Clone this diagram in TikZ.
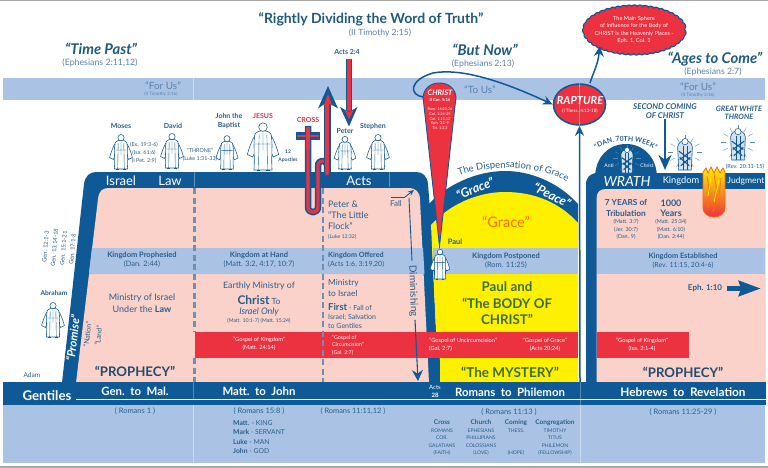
\documentclass[tikz,border=0pt]{standalone}
\usepackage{fontspec}
\setmainfont{Lato}
\usetikzlibrary{arrows.meta,decorations.text,decorations.pathmorphing,shapes.geometric}
\definecolor{navy}{HTML}{0F5A96}
\definecolor{band}{HTML}{AAC3E4}
\definecolor{pinkb}{HTML}{FBD2CA}
\definecolor{redb}{HTML}{EC3240}
\definecolor{yel}{HTML}{FFF000}
\definecolor{txt}{HTML}{2A5E8C}
\definecolor{refc}{HTML}{5A83AD}
\definecolor{headc}{HTML}{1F5A80}
\definecolor{grn}{HTML}{3C6E2E}
\definecolor{dashc}{HTML}{6F8FB5}
\newcommand\fsz[2]{\fontsize{#1}{#2}\selectfont}
\tikzset{
 lbl/.style={inner sep=0pt,align=center,text=txt},
 lft/.style={inner sep=0pt,align=left,text=txt,anchor=west},
 wht/.style={inner sep=0pt,align=center,text=white},
 fig/.style={draw=navy,fill=white,line width=.55pt},
 blueline/.style={draw=navy,line width=1.5pt},
 tube/.style={line cap=butt,line join=round},
 figure robed/.pic={
  \path[fig] (-6,-27) .. controls (-9,-22) and (-11,-16) .. (-12,-12) -- (-8,-10) -- (-6,-14) -- cycle;
  \path[fig] (6,-27) .. controls (9,-22) and (11,-16) .. (12,-12) -- (8,-10) -- (6,-14) -- cycle;
  \path[fig] (-7,0) .. controls (-6,-12) and (-8,-20) .. (-6,-28) .. controls (-4,-31) and (4,-31) .. (6,-28) .. controls (8,-20) and (6,-12) .. (7,0) -- cycle;
  \path[fig] (0,-33) circle (3.3);
  \draw[navy,line width=.4pt] (-3,-27)--(-3.5,0) (3,-27)--(3.5,0) (0,-29)--(0,-15) (-6,-20)--(6,-20);
  \draw[navy,line width=1pt] (-5,0)--(-2,0) (2,0)--(5,0);
 },
 figure glory/.pic={
  \foreach \a in {0,30,...,330}{\draw[navy!70,line width=.35pt] (0,-17)++(\a:11) -- ++(\a:5);}
  \path[draw=navy,fill=navy!18,line width=.6pt] (-6,0) -- (-7,-22) .. controls (-6,-30) and (6,-30) .. (7,-22) -- (6,0) -- cycle;
  \path[fig] (0,-27) circle (3);
  \draw[navy,line width=1.1pt] (-6,-18)--(5,-10) (6,-18)--(-5,-10) (-5,-12)--(4,-4) (5,-12)--(-4,-4);
  \draw[navy,line width=.5pt] (-2,-23)--(-2,0) (2,-23)--(2,0);
 },
}
\begin{document}
\begin{tikzpicture}[x=1pt,y=-1pt]
\useasboundingbox (0,0) rectangle (768,468);
\fill[white] (0,0) rectangle (768,468);
\fill[gray!70] (0,0) rectangle (768,1);
\fill[gray!70] (0,466) rectangle (768,468);
% bands
\fill[band] (3,78) rectangle (765,100);
\fill[band] (3,405) rectangle (765,463);
\draw[white,opacity=.4,line width=.5pt] (193,78)--(193,100) (193,405)--(193,463) (580,405)--(580,463);
% left frame
\fill[navy] (62,383) -- (84,184) .. controls (85,176) and (90,172) .. (96,172) -- (416,172) .. controls (423,172) and (427,176) .. (428,184) -- (431,222) -- (436,330) -- (440,360) -- (440,383) -- cycle;
\fill[pinkb] (76,383) -- (98,199) .. controls (99,191) and (102,188) .. (109,188) -- (408,188) .. controls (416,188) and (420,192) .. (420,200) -- (429,383) -- cycle;
% arch & yellow
\fill[navy] (428,205) .. controls (445,186) and (475,171) .. (505,171) .. controls (535,171) and (562,186) .. (578,204) -- (578,240) -- (430,240) -- cycle;
\fill[yel] (431,225) .. controls (450,204) and (478,192) .. (505,192) .. controls (535,192) and (560,203) .. (578,223) -- (578,382) -- (440,382) -- (440,360) -- (436,330) -- cycle;
% right frame
\fill[navy] (586,383) -- (586,185) .. controls (586,177) and (590,173) .. (598,173) -- (765,173) -- (765,383) -- cycle;
\fill[pinkb] (596.5,383) -- (596.5,199) .. controls (596.5,192) and (600,189) .. (606,189) -- (765,189) -- (765,383) -- cycle;
% dome
\fill[navy] (595,178) .. controls (595,157) and (609,144) .. (626,144) .. controls (643,144) and (657,157) .. (657,178) -- cycle;
% kingdom bands
\fill[band] (92,248) -- (423,248) -- (424.5,274) -- (89,274) -- cycle;
\fill[band] (433,248) rectangle (578,274);
\fill[band] (596.5,248) rectangle (765,274);
% red bars
\fill[redb] (195,332) rectangle (578,358);
\fill[redb] (596.5,332) rectangle (689,358);
% dashed
\draw[dashc,line width=2.2pt,dash pattern=on 6pt off 3.5pt] (194.5,188)--(194.5,332) (194.5,358)--(194.5,382);
\draw[dashc,line width=2.2pt,dash pattern=on 6pt off 3.5pt] (323,188)--(323,382);
\draw[white,opacity=.35,line width=.5pt] (194.5,172)--(194.5,187) (389.5,172)--(389.5,187);
% bottom bar
\fill[navy] (3,382) rectangle (766,405);
\draw[white,line width=1.2pt] (76,399.5)--(766,399.5);
\draw[white,opacity=.3,line width=.5pt] (193,382)--(193,399) (580,382)--(580,405);
% cone CHRIST
\path[fill=redb,draw=navy,line width=.9pt] (423,97) .. controls (424,88) and (431,83) .. (439.5,83) .. controls (448,83) and (455,88) .. (456,97) -- (439.5,246) -- cycle;
% Cross & hairpin
\draw[navy,line width=6.5pt,tube] (308,126)--(308,207) .. controls (308,214) and (318,214) .. (318,207) --(318,166) .. controls (318,159) and (327,159) .. (327,166) -- (327,175);
\draw[redb,line width=3.2pt,tube] (308,127)--(308,207) .. controls (308,214) and (318,214) .. (318,207) --(318,166) .. controls (318,159) and (327,159) .. (327,166) -- (327,175);
\fill[navy] (296,132) rectangle (320,140);
\fill[redb] (297,135) rectangle (319,137.5);
\fill[redb] (306.4,128) rectangle (309.6,150);
\coordinate (upbase) at (327,172);
\coordinate (uptip) at (327,100);
\draw[navy,line width=7pt] (upbase)--(uptip);
\draw[redb,line width=4pt] (upbase)--(uptip);
\fill[navy] (328,86) -- (338,108.5) -- (329,103) -- (326,103) -- (318,108.5) -- cycle;
\fill[redb] (328,94) -- (332.5,106) -- (328,103) -- (323.5,106) -- cycle;
% Acts 2:4 arrow
\coordinate (acttop) at (349,59);
\coordinate (actend) at (349,112);
\draw[navy,line width=6pt] (acttop)--(actend);
\draw[redb,line width=3.6pt] (acttop)--(actend);
\fill[navy] (349,126.5) -- (340,107) -- (347,111) -- (351,111) -- (357.5,107) -- cycle;
\fill[redb] (349,119) -- (344.5,110.5) -- (349,112) -- (353.5,110.5) -- cycle;
% Cloud & rapture
\node[draw=none,ellipse,minimum width=98pt,minimum height=46pt,inner sep=0pt] (cloud) at (634.5,30) {};
\path[fill=redb,draw=navy,line width=1.1pt,decorate,decoration={bumps,segment length=11pt,amplitude=1.6pt}] (cloud.center) ellipse[x radius=50,y radius=23.5];
\node[ellipse,fill=redb,draw=navy,line width=1.6pt,minimum width=52pt,minimum height=41pt,inner sep=0pt] (rapture) at (579.5,104.5) {};
\draw[white,opacity=.4,line width=.4pt] (rapture.north)--(rapture.south);
% arrows to rapture etc.
\coordinate (toustart) at (423,97);
\draw[blueline,-{Stealth[length=10pt,width=9pt]}] (toustart) .. controls (409,95) and (409,80) .. (433,73) .. controls (460,68) and (500,80) .. (rapture.west);
\coordinate (raptail) at (580,382);
\draw[blueline,-{Stealth[length=10pt,width=9pt]}] (raptail)--(rapture.south);
\draw[blueline,-{Stealth[length=10pt,width=10pt]}] (590,83) .. controls (593,73) and (598,65) .. (cloud.south west);
% Second coming arrow
\coordinate (sctop) at (665,119);
\coordinate (scend) at (665,170);
\draw[navy,line width=2pt,-{Stealth[length=15pt,width=13pt]}] (sctop)--(scend);
% Eph arrow
\coordinate (ephs) at (727,288.5);
\coordinate (ephe) at (761,288.5);
\draw[navy,line width=5pt,-{Stealth[length=22pt,width=15pt,inset=2pt]}] (ephs)--(ephe);
% Diminishing & Fall
\coordinate (falla) at (391,197);
\coordinate (fallb) at (405,197);
\coordinate (fallc) at (414,190);
\draw[navy,line width=.9pt] (falla)--(fallb);
\draw[navy,line width=.9pt,-{Stealth[length=6pt,width=5pt]}] (fallb)--(fallc);
\coordinate (dima) at (409,198);
\coordinate (dimb) at (412,261);
\coordinate (dimc) at (415,320);
\coordinate (dimd) at (418,381);
\draw[navy,line width=.9pt] (dima)--(dimb);
\draw[navy,line width=1.1pt,-{Stealth[length=11pt,width=11pt]}] (dimc)--(dimd);
% Flame
\path[top color=yel,bottom color=redb,draw=orange!80!red,line width=.8pt] (703,172) -- (706,168) -- (708,173) -- (711,167) -- (714,173) -- (717,167) -- (720,173) -- (723,168) -- (725,172) -- (725,207) .. controls (725,214) and (720,217) .. (714,217) .. controls (708,217) and (703,214) .. (703,207) -- cycle;
\draw[orange!90!red,line width=.8pt] (707,176)--(710,195)--(708,208) (714,174)--(717,192)--(713,212) (721,178)--(719,196)--(722,208);
\draw[yel,line width=.8pt] (711,178)--(708,196) (719,180)--(714,202);
% Figures
\path (121,169) pic[scale=.95] {figure robed};
\path (172,168) pic[scale=.95] {figure robed};
\path (227,169) pic[scale=.92] {figure robed};
\path (263,170) pic[scale=1.3] {figure robed};
\path (345,169) pic[scale=.9] {figure robed};
\path (378,169) pic[scale=.95] {figure robed};
\path (53,337) pic[scale=.95] {figure robed};
\path (627,173) pic[scale=.85] {figure glory};
\path (685,170) pic[scale=1.05] {figure glory};
\path (738,160) pic[scale=1.05] {figure glory};
\path (440,279) pic[scale=.82] {figure robed};
%% text
\node[lbl,text=headc,font=\fsz{14}{17}\bfseries] (title) at (371,19) {“Rightly Dividing the Word of Truth”};
\node[lbl,font=\fsz{8.6}{9},text=refc] (titleref) at (380,33) {(II Timothy 2:15)};
\node[lbl,text=headc,font=\fsz{14.8}{17}\bfseries\itshape] (tp) at (101,49) {“Time Past”};
\node[lbl,font=\fsz{8.8}{9},text=refc] (tpr) at (100,63) {(Ephesians 2:11,12)};
\node[lbl,text=headc,font=\fsz{14.8}{17}\bfseries\itshape] (bn) at (485,50) {“But Now”};
\node[lbl,font=\fsz{8.7}{9},text=refc] (bnr) at (483,64) {(Ephesians 2:13)};
\node[lbl,text=headc,font=\fsz{14.8}{17}\bfseries\itshape] (ac) at (715,59) {“Ages to Come”};
\node[lbl,font=\fsz{8.7}{9},text=refc] (acr) at (713,72) {(Ephesians 2:7)};
\node[lbl,text=refc,font=\fsz{10}{11}] (fu1) at (163,85.5) {“For Us”};
\node[lbl,text=refc,font=\fsz{4.6}{5}] (fu1r) at (161,94.5) {(II Timothy 3:16)};
\node[lbl,text=refc,font=\fsz{10}{11}] (tu) at (480,90) {“To Us”};
\node[lbl,text=refc,font=\fsz{10}{11}] (fu2) at (698,86.5) {“For Us”};
\node[lbl,text=refc,font=\fsz{4.6}{5}] (fu2r) at (698,95.5) {(II Timothy 3:16)};
\node[wht,font=\fsz{7.5}{8}\bfseries\itshape] (cn1) at (440,93) {CHRIST};
\node[wht,font=\fsz{4.2}{5}\bfseries] (cn2) at (440,100) {II Cor. 5:16};
\node[wht,font=\fsz{3.8}{4.6}] (cn3) at (440,119) {Rom. 16:25,26\\Col. 1:24-29\\Col. 1:11,12\\Eph. 3:1-9\\Tit. 1:2,3};
\node[wht,font=\fsz{11}{11}\bfseries\itshape] (rt) at (580,101) {RAPTURE};
\node[wht,font=\fsz{4.6}{5}] (rr) at (580,111) {(I Thess. 4:13-18)};
\node[wht,font=\fsz{5.6}{7.6}] (cl) at (634,30) {The Main Sphere\\of Influence for the Body of\\CHRIST is the Heavenly Places -\\Eph. 1, Col. 1};
\node[lbl,font=\fsz{8}{8.3}\bfseries\itshape] (sc) at (665,111) {SECOND COMING\\OF CHRIST};
\node[lbl,font=\fsz{7.4}{8.3}\bfseries\itshape] (gw) at (739,113) {GREAT WHITE\\THRONE};
\node[lbl,font=\fsz{5.6}{6}] (rev20) at (745,167) {(Rev. 20:11-15)};
\node[lbl,font=\fsz{7}{7}\bfseries] (m1) at (121,126) {Moses};
\node[lbl,font=\fsz{7}{7}\bfseries] (m2) at (173,126) {David};
\node[lbl,font=\fsz{7}{9}\bfseries] (m3) at (229,121) {John the\\Baptist};
\node[lbl,font=\fsz{7}{7}\bfseries,text=redb] (m4) at (263,116) {JESUS};
\node[lbl,font=\fsz{7}{7}\bfseries,text=redb] (m5) at (308,120) {CROSS};
\node[lbl,font=\fsz{7}{7}\bfseries] (m6) at (345,131) {Peter};
\node[lbl,font=\fsz{7}{7}\bfseries] (m7) at (373,126) {Stephen};
\node[lbl,font=\fsz{5.4}{8}] (v1) at (144,153) {(Ex. 19:3-6)\\(Isa. 61:6)\\(I Pet. 2:9)};
\node[lbl,font=\fsz{5.4}{8}] (v2) at (200,155) {“THRONE”\\(Luke 1:31-33)};
\node[lbl,font=\fsz{5}{8}\bfseries] (v3) at (288,156) {12\\Apostles};
\node[lbl,font=\fsz{7}{7}\bfseries] (act24) at (347,52) {Acts 2:4};
\node[lbl,font=\fsz{6.6}{7}\bfseries] (abr) at (54,293) {Abraham};
\node[lbl,font=\fsz{6.6}{7}] (adam) at (32,375) {Adam};
\node[lbl,rotate=85,font=\fsz{5.8}{9}] (gen) at (59,248) {Gen. 12:1-3\\Gen. 13:14-18\\Gen. 15:1-21\\Gen. 17:1-8};
\node[wht,rotate=83.5,font=\fsz{11.5}{12}\bfseries\itshape] (prom) at (73,338) {“Promise”};
\node[lbl,rotate=83.5,font=\fsz{7}{11}] (nl) at (93,335) {“Nation”\\“Land”};
\node[wht,font=\fsz{13}{14}] (isr) at (121,181) {Israel};
\node[wht,font=\fsz{13}{14}] (law) at (170,181) {Law};
\node[wht,font=\fsz{13}{14}] (acts) at (359,181) {Acts};
\node[lft,font=\fsz{9}{11}] (pet) at (328,220) {Peter \&\\“The Little\\Flock”\\[-2pt]{\fsz{5.2}{6}(Luke 12:32)}};
\node[lbl,font=\fsz{8}{9}] (fall) at (396,204) {Fall};
\node[lbl,rotate=-88,font=\fsz{10}{11}] (dim) at (413,291) {Diminishing};
\node[lbl,font=\fsz{7.5}{9.5}\bfseries] (kp) at (142,260) {Kingdom Prophesied\\{\mdseries\fsz{7.4}{9}(Dan. 2:44)}};
\node[lbl,font=\fsz{7.5}{9.5}\bfseries] (kh) at (259,260) {Kingdom at Hand\\{\mdseries\fsz{7.4}{9}(Matt. 3:2, 4:17, 10:7)}};
\node[lft,font=\fsz{7.2}{9.5}\bfseries] (ko) at (328,260) {Kingdom Offered\\{\mdseries\fsz{7}{9}(Acts 1:6, 3:19,20)}};
\node[lbl,font=\fsz{9}{12.5}] (mi) at (142,303) {Ministry of Israel\\Under the {\bfseries Law}};
\node[lbl,font=\fsz{8.8}{10}] (em) at (259,286) {Earthly Ministry of};
\node[lbl,font=\fsz{8.5}{12}] (ch) at (259,300) {{\fsz{12}{12}\bfseries Christ} To};
\node[lbl,font=\fsz{9}{10}\itshape] (io) at (259,312) {Israel Only};
\node[lbl,font=\fsz{5.2}{5}] (mref) at (259,321) {(Matt. 10:1-7) (Matt. 15:24)};
\node[lft,font=\fsz{8.4}{11}] (mn) at (328,288) {Ministry\\to Israel};
\node[lft,font=\fsz{7}{9}] (fi) at (328,316) {{\fsz{9.5}{9}\bfseries First} - Fall of\\Israel; Salvation\\to Gentiles};
\node[wht,font=\fsz{5.7}{7.6}] (g1) at (259,344) {“Gospel of Kingdom”\\(Matt. 24:14)};
\node[wht,anchor=west,align=left,font=\fsz{5.3}{7.4}] (g2) at (332,345) {“Gospel of\\Circumcision”\\(Gal. 2:7)};
\node[wht,anchor=west,align=left,font=\fsz{5.7}{8}] (g3) at (429,345) {“Gospel of Uncircumcision”\\(Gal. 2:7)};
\node[wht,font=\fsz{5.7}{8}] (g4) at (545,345) {“Gospel of Grace”\\(Acts 20:24)};
\node[wht,font=\fsz{5.7}{8}] (g5) at (642,345) {“Gospel of Kingdom”\\(Isa. 2:1-4)};
\node[lbl,font=\fsz{13.2}{16}\bfseries,text=txt!80!black] (pr1) at (135,371) {“PROPHECY”};
\node[lbl,font=\fsz{13.2}{16}\bfseries,text=txt!80!black] (pr2) at (683,372) {“PROPHECY”};
\node[wht,font=\fsz{13.3}{15}\bfseries] (gent) at (47,396) {Gentiles};
\node[wht,font=\fsz{11.4}{12}\bfseries] (s1) at (135,391) {Gen.\ \ to\ \ Mal.};
\node[wht,font=\fsz{11.4}{12}\bfseries] (s2) at (259,391) {Matt.\ \ to\ \ John};
\node[wht,font=\fsz{11.4}{12}\bfseries] (s3) at (510,392) {Romans\ \ to\ \ Philemon};
\node[wht,font=\fsz{11.8}{12}\bfseries] (s4) at (683,392) {Hebrews\ \ to\ \ Revelation};
\node[wht,font=\fsz{6}{7.5}] (a28) at (435,391.5) {Acts\\{\bfseries 28}};
\node[lbl,font=\fsz{7.5}{8}] (r1) at (135,411) {( Romans 1 )};
\node[lbl,font=\fsz{7.5}{8}] (r2) at (259,411) {( Romans 15:8 )};
\node[lbl,font=\fsz{7.4}{8}] (r3) at (353,411) {( Romans 11:11,12 )};
\node[lbl,font=\fsz{7.5}{8}] (r4) at (509,412) {( Romans 11:13 )};
\node[lbl,font=\fsz{7.5}{8}] (r5) at (683,412) {( Romans 11:25-29 )};
\node[lft,font=\fsz{6.8}{9.3}] (mmlj) at (233,437) {{\bfseries Matt.} - KING\\{\bfseries Mark} - SERVANT\\{\bfseries Luke} - MAN\\{\bfseries John} - GOD};
\node[lbl,font=\fsz{5}{7.5}] (c1) at (442,437.5) {{\fsz{6.5}{7.5}\bfseries Cross}\\ROMANS\\COR.\\GALATIANS\\(FAITH)};
\node[lbl,font=\fsz{5}{7.5}] (c2) at (481,437.5) {{\fsz{6.5}{7.5}\bfseries Church}\\EPHESIANS\\PHILLIPIANS\\COLOSSIANS\\(LOVE)};
\node[lbl,font=\fsz{5}{7.5}] (c3) at (516,437.5) {{\fsz{6.5}{7.5}\bfseries Coming}\\THESS.\\ \\ \\(HOPE)};
\node[lbl,font=\fsz{5}{7.5}] (c4) at (555,437.5) {{\fsz{6.5}{7.5}\bfseries Congregation}\\TIMOTHY\\TITUS\\PHILEMON\\(FELLOWSHIP)};
\node[lbl,text=orange!85!red,font=\fsz{14.5}{15}] (gr) at (506,222) {“Grace”};
\node[lbl,font=\fsz{7.5}{8}\bfseries] (paul) at (455,242) {Paul};
\node[lbl,font=\fsz{7.5}{9.5}\bfseries] (kpo) at (506,261) {Kingdom Postponed\\{\mdseries\fsz{7.4}{9}(Rom. 11:25)}};
\node[lbl,text=grn,font=\fsz{13.3}{16.5}\bfseries] (body) at (507,303.5) {Paul and\\“The BODY OF\\CHRIST”};
\node[lbl,text=grn,font=\fsz{13.5}{16}\bfseries] (myst) at (510,372) {“The MYSTERY”};
\node[wht,rotate=22,font=\fsz{12.5}{12}\itshape\bfseries] (ag) at (475,188.5) {“Grace”};
\node[wht,rotate=-27,font=\fsz{12.5}{12}\itshape\bfseries] (ap) at (552,195) {“Peace”};
\path[postaction={decorate,decoration={text along path,text align=center,text={|\fsz{9.5}{10}\color{txt}|The Dispensation of Grace}}}] (456,177) .. controls (485,165) and (535,163) .. (570,183);
\path[postaction={decorate,decoration={text along path,text align=center,text={|\fsz{6.8}{7}\bfseries\color{txt}|“DAN. 70TH WEEK”}}}] (592,154) .. controls (605,137) and (645,137) .. (660,154);
\node[wht,font=\fsz{5}{5}] (anti) at (609,166) {Anti};
\node[wht,font=\fsz{5}{5}] (chr) at (647,166) {Christ};
\node[wht,font=\fsz{14}{15}\itshape] (wr) at (627,181) {WRATH};
\node[wht,font=\fsz{9.3}{10}] (ki) at (681,181) {Kingdom};
\node[wht,font=\fsz{8.6}{10}] (ju) at (746,181) {Judgment};
\node[lbl,font=\fsz{8.3}{11}\bfseries] (ye) at (626,207.5) {7 YEARS of\\Tribulation};
\node[lbl,font=\fsz{5.4}{7.6}] (yer) at (626,229.5) {(Matt. 3:7)\\(Jer. 30:7)\\(Dan. 9)};
\node[lbl,font=\fsz{9}{10.5}\bfseries] (yr) at (671,208) {1000\\Years};
\node[lbl,font=\fsz{5.4}{7.6}] (yrr) at (671,229.5) {(Matt. 25:34)\\(Matt. 6:10)\\(Dan. 2:44)};
\node[lbl,font=\fsz{7.4}{9.5}\bfseries] (ke) at (683,261) {Kingdom Established\\{\mdseries\fsz{7}{9}(Rev. 11:15, 20:4-6)}};
\node[lbl,font=\fsz{8}{8}\bfseries] (eph) at (705,288.5) {Eph. 1:10};
\end{tikzpicture}
\end{document}
